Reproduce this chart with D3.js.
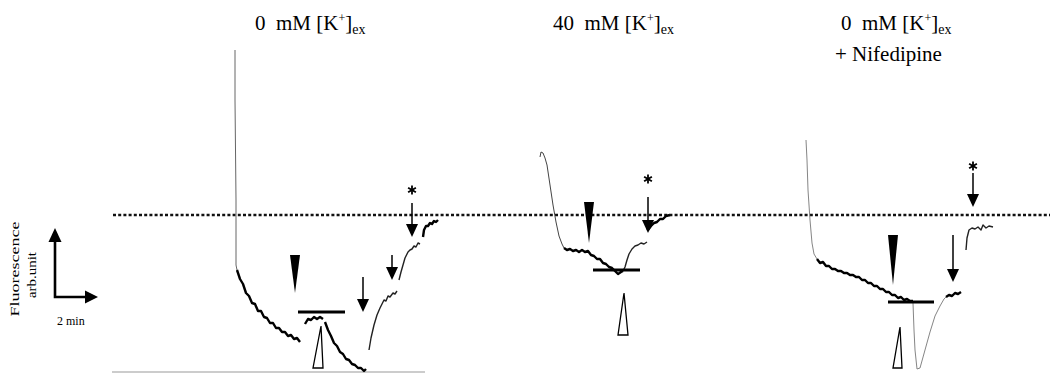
<!DOCTYPE html>
<html lang="en">
  <head>
    <title>Fluorescence traces</title>
    <script src="https://d3js.org/d3.v7.min.js"></script>
    <style>
      body {
        margin: 0;
        background: #fff;
      }
      text {
        font-family: "Liberation Serif", "Times New Roman", serif;
        fill: #000;
      }
    </style>
  </head>
  <body>
    <svg id="traces" width="1054" height="374"></svg>
    <script>
      // time (arb.) and fluorescence (arb.unit) values
      const titles = [
        { main: "0  mM [K", sub: "ex", extra: "" },
        { main: "40  mM [K", sub: "ex", extra: "" },
        { main: "0  mM [K", sub: "ex", extra: "+ Nifedipine" },
      ];

      const restingLevel = 159;
      const restingSpan = [113, 1050];

      // panel 1 : 0 mM K+
      const k0Thin = [
        [[235, 324], [235, 274], [236, 174], [236, 109], [237, 104]],
      ];
      const k0Medium = [
        [[369, 24], [371, 36], [374, 49], [377, 59], [380, 66], [384, 74], [386, 73],
         [388, 78], [390, 77], [393, 81], [395, 80], [397, 83]],
        [[399, 94], [401, 102], [403, 109], [405, 116], [408, 122], [410, 124],
         [412, 125], [414, 128], [416, 127], [418, 131], [420, 130]],
      ];
      const k0Noisy = [
        [[237, 104], [240, 95], [243, 90], [246, 81], [249, 78], [252, 71], [255, 70],
         [258, 63], [261, 63], [264, 57], [267, 56], [270, 51], [273, 51], [276, 46],
         [279, 46], [282, 42], [285, 42], [288, 38], [291, 39], [294, 35], [297, 36], [300, 32]],
        [[305, 50], [308, 55], [311, 54], [314, 57], [317, 55], [320, 57], [323, 55]],
        [[325, 52], [328, 44], [331, 38], [334, 31], [337, 28], [340, 22], [343, 20],
         [346, 15], [349, 14], [352, 10], [355, 9], [358, 6], [361, 6], [364, 3], [366, 5]],
        [[423, 137], [424, 144], [426, 148], [428, 148], [430, 151], [432, 150],
         [434, 153], [436, 152], [438, 154]],
      ];

      // panel 2 : 40 mM K+
      const k40Thin = [
        [[540, 217], [541, 222], [543, 221], [545, 216], [547, 209], [550, 189],
         [553, 169], [556, 152], [559, 138], [562, 130], [564, 126]],
      ];
      const k40Medium = [
        [[623, 103], [625, 107], [627, 114], [629, 120], [632, 125], [635, 128],
         [638, 129], [641, 131], [644, 130], [647, 132]],
      ];
      const k40Noisy = [
        [[564, 126], [567, 124], [570, 125], [573, 123], [576, 124], [579, 122],
         [582, 124], [585, 122], [588, 123], [591, 119], [594, 118], [597, 115],
         [600, 115], [603, 111], [606, 110], [609, 107], [612, 106], [615, 103],
         [618, 100], [621, 102], [623, 103]],
        [[646, 152], [648, 144], [651, 148], [654, 151], [657, 152], [660, 155],
         [663, 155], [666, 158], [670, 159]],
      ];

      // panel 3 : 0 mM K+ + nifedipine
      const nifThin = [
        [[806, 234], [807, 214], [808, 184], [810, 154], [812, 131], [814, 120], [817, 115]],
        [[913, 71], [914, 44], [915, 24], [917, 5], [920, 6], [925, 24], [930, 42],
         [935, 58], [940, 68], [944, 75], [946, 77]],
      ];
      const nifMedium = [
        [[966, 124], [967, 136], [969, 144], [972, 146], [975, 145], [978, 147],
         [981, 144], [983, 149], [986, 146], [989, 148], [993, 147]],
      ];
      const nifNoisy = [
        [[817, 115], [820, 111], [823, 112], [826, 108], [829, 108], [832, 105],
         [835, 105], [838, 103], [841, 103], [844, 101], [847, 101], [850, 99],
         [853, 99], [856, 97], [859, 97], [862, 94], [865, 94], [868, 91], [871, 91],
         [874, 88], [877, 88], [880, 85], [883, 85], [886, 82], [889, 82], [892, 79],
         [895, 79], [898, 76], [901, 77], [904, 74], [907, 75], [910, 73], [913, 73]],
        [[946, 77], [949, 79], [952, 78], [955, 81], [958, 80], [961, 82]],
      ];

      // annotations: application bars [start, end, level]
      const bars = [[298, 345, 62], [593, 640, 104], [888, 934, 72]];
      // filled arrowheads [time, top, tip]
      const stimMarks = [[295, 119, 81], [589, 172, 131], [893, 139, 89]];
      // open triangles [baseLeft, baseRight, baseLevel, apexTime, apexLevel]
      const openMarks = [[313, 323, 6, 321, 48], [618, 628, 39, 624, 81], [893, 902, 6, 900, 47]];
      // down arrows [time, top, tip]
      const arrows = [[363, 97, 62], [392, 119, 94], [412, 171, 137],
                      [648, 177, 141], [953, 139, 92], [973, 201, 167]];
      // asterisks [time, level]
      const stars = [[412, 184], [648, 195], [973, 208]];

      const svg = d3.select("svg#traces");
      const width = +svg.attr("width");
      const height = +svg.attr("height");

      const xScale = d3.scaleLinear().domain([0, 1054]).range([0, width]);
      const yScale = d3.scaleLinear().domain([0, 374]).range([height, 0]);

      const line = d3
        .line()
        .x((d) => xScale(d[0]))
        .y((d) => yScale(d[1]));

      // resting level (dotted)
      svg
        .append("line")
        .attr("x1", xScale(restingSpan[0]))
        .attr("x2", xScale(restingSpan[1]))
        .attr("y1", yScale(restingLevel))
        .attr("y2", yScale(restingLevel))
        .attr("stroke", "#111")
        .attr("stroke-width", 2.6)
        .attr("stroke-dasharray", "3 2.2");

      // bottom grey line under first panel
      svg
        .append("line")
        .attr("x1", xScale(112))
        .attr("x2", xScale(425))
        .attr("y1", yScale(2))
        .attr("y2", yScale(2))
        .attr("stroke", "#999")
        .attr("stroke-width", 1);

      function drawSegs(segs, color, w) {
        segs.forEach((seg) => {
          svg
            .append("path")
            .attr("d", line(seg))
            .attr("fill", "none")
            .attr("stroke", color)
            .attr("stroke-width", w)
            .attr("stroke-linejoin", "round");
        });
      }

      drawSegs(k0Thin, "#666", 1);
      drawSegs(k40Thin, "#444", 1);
      drawSegs(nifThin, "#777", 0.9);
      drawSegs(k0Medium, "#222", 1.4);
      drawSegs(k40Medium, "#222", 1.4);
      drawSegs(nifMedium, "#222", 1.4);
      drawSegs(k0Noisy, "#000", 2.4);
      drawSegs(k40Noisy, "#000", 2.4);
      drawSegs(nifNoisy, "#000", 2.4);

      // bars
      bars.forEach((b) => {
        svg
          .append("line")
          .attr("x1", xScale(b[0]))
          .attr("x2", xScale(b[1]))
          .attr("y1", yScale(b[2]))
          .attr("y2", yScale(b[2]))
          .attr("stroke", "#000")
          .attr("stroke-width", 3.2);
      });

      // filled arrowheads
      stimMarks.forEach((m) => {
        const x = xScale(m[0]);
        svg
          .append("path")
          .attr(
            "d",
            `M${x - 5},${yScale(m[1])} L${x + 5},${yScale(m[1])} L${x},${yScale(m[2])} Z`
          )
          .attr("fill", "#000");
      });

      // open triangles
      openMarks.forEach((m) => {
        svg
          .append("path")
          .attr(
            "d",
            `M${xScale(m[0])},${yScale(m[2])} L${xScale(m[1])},${yScale(m[2])} L${xScale(m[3])},${yScale(m[4])} Z`
          )
          .attr("fill", "#fff")
          .attr("stroke", "#000")
          .attr("stroke-width", 1.3);
      });

      // down arrows
      arrows.forEach((a) => {
        const x = xScale(a[0]);
        const tip = yScale(a[2]);
        svg
          .append("line")
          .attr("x1", x)
          .attr("x2", x)
          .attr("y1", yScale(a[1]))
          .attr("y2", tip - 8)
          .attr("stroke", "#000")
          .attr("stroke-width", 1.5);
        svg
          .append("path")
          .attr("d", `M${x - 6},${tip - 13} L${x + 6},${tip - 13} L${x},${tip} Z`)
          .attr("fill", "#000");
      });

      // asterisks drawn as three crossing strokes
      stars.forEach((s) => {
        const cx = xScale(s[0]);
        const cy = yScale(s[1]);
        const r = 4.5;
        const star = svg.append("g").attr("transform", `translate(${cx},${cy})`);
        [90, 30, 150].forEach((deg) => {
          const rad = (deg * Math.PI) / 180;
          star
            .append("line")
            .attr("x1", -r * Math.cos(rad))
            .attr("y1", -r * Math.sin(rad))
            .attr("x2", r * Math.cos(rad))
            .attr("y2", r * Math.sin(rad))
            .attr("stroke", "#000")
            .attr("stroke-width", 1.8);
        });
      });

      // panel titles
      const titleX = [255, 553, 841];
      titles.forEach((t, i) => {
        const txt = svg
          .append("text")
          .attr("x", titleX[i])
          .attr("y", 30)
          .attr("font-size", 21)
          .attr("xml:space", "preserve");
        txt.append("tspan").text(t.main);
        txt.append("tspan").attr("font-size", 12).attr("dy", -8).text("+");
        txt.append("tspan").attr("dy", 8).text("]");
        txt.append("tspan").attr("font-size", 14).attr("dy", 4).text(t.sub);
        if (t.extra) {
          svg
            .append("text")
            .attr("x", titleX[i] - 6)
            .attr("y", 61)
            .attr("font-size", 21)
            .text(t.extra);
        }
      });

      // scale bar
      const scaleOrigin = [55, 77];
      const scaleUp = 146;
      const scaleRight = 98;
      const ox = xScale(scaleOrigin[0]);
      const oy = yScale(scaleOrigin[1]);
      const topY = yScale(scaleUp);
      const rightX = xScale(scaleRight);
      svg
        .append("path")
        .attr("d", `M${ox},${topY + 12} L${ox},${oy} L${rightX - 12},${oy}`)
        .attr("fill", "none")
        .attr("stroke", "#000")
        .attr("stroke-width", 2.6);
      svg
        .append("path")
        .attr("d", `M${ox - 6.5},${topY + 14} L${ox + 6.5},${topY + 14} L${ox},${topY} Z`)
        .attr("fill", "#000");
      svg
        .append("path")
        .attr("d", `M${rightX - 13},${oy - 6.5} L${rightX - 13},${oy + 6.5} L${rightX},${oy} Z`)
        .attr("fill", "#000");

      svg
        .append("text")
        .attr("transform", "translate(19,269) rotate(-90)")
        .attr("text-anchor", "middle")
        .attr("font-size", 13)
        .attr("textLength", 95)
        .attr("lengthAdjust", "spacingAndGlyphs")
        .text("Fluorescence");
      svg
        .append("text")
        .attr("transform", "translate(36,275) rotate(-90)")
        .attr("text-anchor", "middle")
        .attr("font-size", 12)
        .attr("textLength", 46)
        .attr("lengthAdjust", "spacingAndGlyphs")
        .text("arb.unit");
      svg
        .append("text")
        .attr("x", 57)
        .attr("y", 325)
        .attr("font-size", 12)
        .text("2 min");
    </script>
  </body>
</html>
